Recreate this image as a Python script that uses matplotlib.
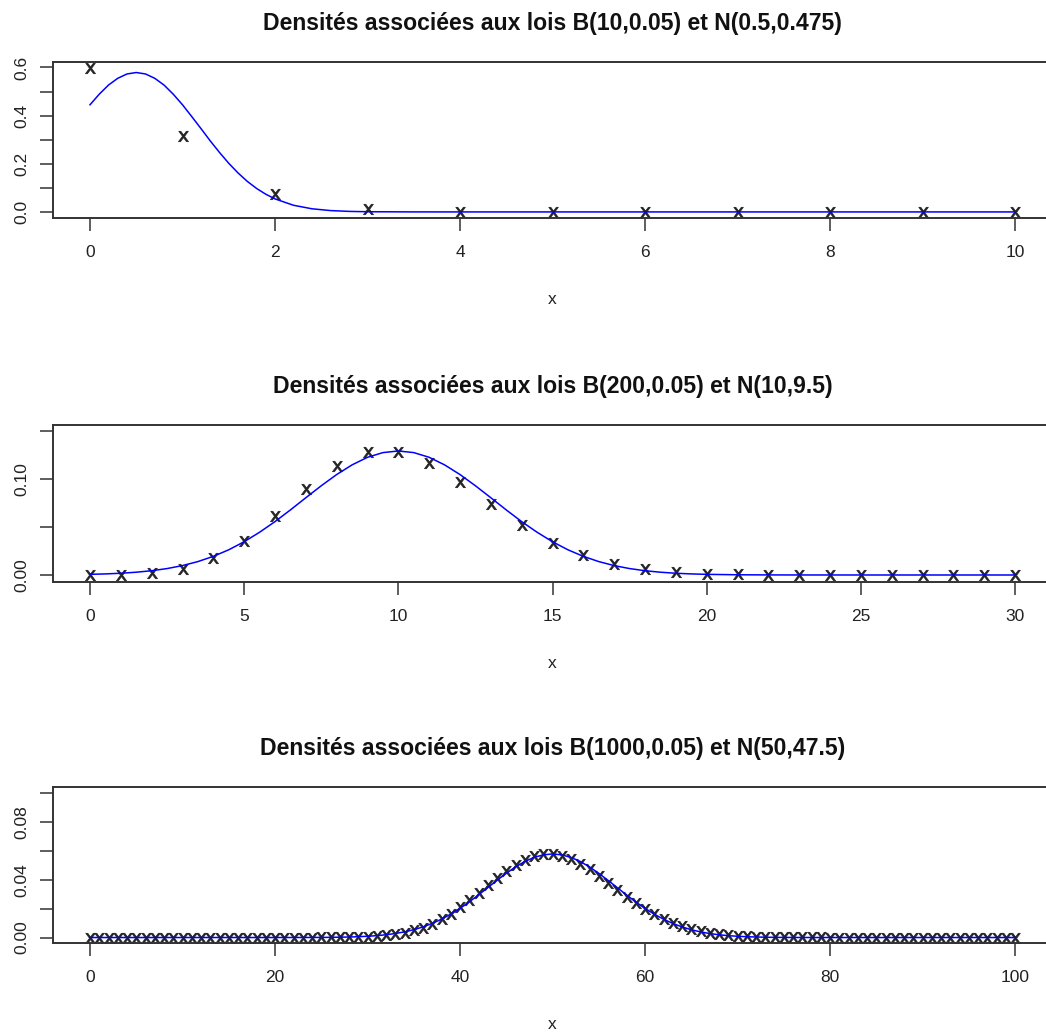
import matplotlib
matplotlib.use("Agg")
import matplotlib.pyplot as plt
from matplotlib import font_manager

# ---------------- data ----------------
titles = [
    "Densités associées aux lois B(10,0.05) et N(0.5,0.475)",
    "Densités associées aux lois B(200,0.05) et N(10,9.5)",
    "Densités associées aux lois B(1000,0.05) et N(50,47.5)",
]

# Panel 1 : binomial points
p1_x = [0, 1, 2, 3, 4, 5, 6, 7, 8, 9, 10]
p1_y = [0.5987, 0.3151, 0.0746, 0.0105, 0.001, 0.0001, 0.0, 0.0, 0.0, 0.0, 0.0]
# Panel 1 : normal curve
c1_x = [0.0, 0.1, 0.2, 0.3, 0.4, 0.5, 0.6, 0.7, 0.8, 0.9, 1.0, 1.1, 1.2, 1.3, 1.4,
        1.5, 1.6, 1.7, 1.8, 1.9, 2.0, 2.2, 2.4, 2.6, 2.8, 3.0, 3.5, 4.0, 5.0,
        6.0, 7.0, 8.0, 9.0, 10.0]
c1_y = [0.445, 0.489, 0.527, 0.555, 0.573, 0.579, 0.573, 0.555, 0.527, 0.489,
        0.445, 0.396, 0.346, 0.295, 0.247, 0.202, 0.162, 0.127, 0.0977, 0.0736,
        0.0542, 0.0276, 0.013, 0.0056, 0.0022, 0.0008, 0.00004, 0.0, 0.0,
        0.0, 0.0, 0.0, 0.0, 0.0]

# Panel 2 : binomial points
p2_x = list(range(0, 31))
p2_y = [0.00004, 0.00037, 0.00194, 0.00672, 0.01742, 0.03594, 0.06148, 0.08967,
        0.11386, 0.12784, 0.12851, 0.11683, 0.09685, 0.07371, 0.05182, 0.03382,
        0.02058, 0.01172, 0.00627, 0.00316, 0.00151, 0.00068, 0.00029, 0.00012,
        0.00005, 0.00002, 0.00001, 0.0, 0.0, 0.0, 0.0]
# Panel 2 : normal curve
c2_x = [0, 0.5, 1, 1.5, 2, 2.5, 3, 3.5, 4, 4.5, 5, 5.5, 6, 6.5, 7, 7.5, 8, 8.5,
        9, 9.5, 10, 10.5, 11, 11.5, 12, 12.5, 13, 13.5, 14, 14.5, 15, 15.5, 16,
        16.5, 17, 17.5, 18, 18.5, 19, 19.5, 20, 21, 22, 23, 25, 30]
c2_y = [0.00067, 0.00112, 0.00182, 0.00289, 0.00446, 0.0067, 0.00981, 0.014,
        0.01945, 0.0263, 0.0347, 0.0446, 0.0557, 0.0679, 0.0806, 0.0931, 0.1048,
        0.1149, 0.1228, 0.1277, 0.1294, 0.1277, 0.1228, 0.1149, 0.1048, 0.0931,
        0.0806, 0.0679, 0.0557, 0.0446, 0.0347, 0.0263, 0.01945, 0.014, 0.00981,
        0.0067, 0.00446, 0.00289, 0.00182, 0.00112, 0.00067, 0.00022, 0.00007,
        0.00002, 0.0, 0.0]

# Panel 3 : binomial points (x = 0..100)
p3_x = list(range(0, 101))
p3_y = [0.0, 0.0, 0.0, 0.0, 0.0, 0.0, 0.0, 0.0, 0.0, 0.0,
        0.0, 0.0, 0.0, 0.0, 0.0, 0.0, 0.0, 0.0, 0.0, 0.0,
        0.0, 0.0, 0.0, 0.0, 0.0, 0.00003, 0.00005, 0.0001, 0.00019, 0.00033,
        0.00056, 0.00092, 0.00146, 0.00226, 0.00339, 0.00492, 0.00694, 0.00951, 0.01269, 0.01647,
        0.02083, 0.02567, 0.03085, 0.03617, 0.0414, 0.04629, 0.05058, 0.05404, 0.05647, 0.05774,
        0.0578, 0.05667, 0.05443, 0.05124, 0.0473, 0.04282, 0.03803, 0.03315, 0.02837, 0.02384,
        0.01968, 0.01596, 0.01272, 0.00997, 0.00768, 0.00582, 0.00434, 0.00318, 0.0023, 0.00163,
        0.00114, 0.00079, 0.00054, 0.00036, 0.00024, 0.00016, 0.0001, 0.00006, 0.00004, 0.00002,
        0.00001, 0.0, 0.0, 0.0, 0.0, 0.0, 0.0, 0.0, 0.0, 0.0,
        0.0, 0.0, 0.0, 0.0, 0.0, 0.0, 0.0, 0.0, 0.0, 0.0,
        0.0]
# Panel 3 : normal curve (x = 0..100)
c3_x = list(range(0, 101))
c3_y = [0.0, 0.0, 0.0, 0.0, 0.0, 0.0, 0.0, 0.0, 0.0, 0.0,
        0.0, 0.0, 0.0, 0.0, 0.0, 0.0, 0.0, 0.0, 0.0, 0.0,
        0.0, 0.00001, 0.00002, 0.00003, 0.00005, 0.00008, 0.00013, 0.00022, 0.00035, 0.00056,
        0.00086, 0.0013, 0.00191, 0.00276, 0.00391, 0.00542, 0.00735, 0.00977, 0.01271, 0.0162,
        0.0202, 0.02467, 0.02951, 0.03456, 0.03963, 0.04449, 0.04892, 0.05266, 0.0555, 0.05728,
        0.05789, 0.05728, 0.0555, 0.05266, 0.04892, 0.04449, 0.03963, 0.03456, 0.02951, 0.02467,
        0.0202, 0.0162, 0.01271, 0.00977, 0.00735, 0.00542, 0.00391, 0.00276, 0.00191, 0.0013,
        0.00086, 0.00056, 0.00035, 0.00022, 0.00013, 0.00008, 0.00005, 0.00003, 0.00002, 0.00001,
        0.0, 0.0, 0.0, 0.0, 0.0, 0.0, 0.0, 0.0, 0.0, 0.0,
        0.0, 0.0, 0.0, 0.0, 0.0, 0.0, 0.0, 0.0, 0.0, 0.0,
        0.0]

x_ticks = [[0, 2, 4, 6, 8, 10], [0, 5, 10, 15, 20, 25, 30], [0, 20, 40, 60, 80, 100]]
y_ticks = [[0.0, 0.1, 0.2, 0.3, 0.4, 0.5, 0.6],
           [0.0, 0.05, 0.10, 0.15],
           [0.0, 0.02, 0.04, 0.06, 0.08, 0.10]]
y_ticklabels = [["0.0", "", "0.2", "", "0.4", "", "0.6"],
                ["0.00", "", "0.10", ""],
                ["0.00", "", "0.04", "", "0.08", ""]]
x_lims = [(-0.4, 10.4), (-1.2, 31.2), (-4, 104)]
y_lims = [(-0.024, 0.6227), (-0.007, 0.1565), (-0.004, 0.1045)]

# ---------------- figure ----------------
W, H = 1046, 1035
fig = plt.figure(figsize=(W / 100, H / 100), dpi=100)

names = {f.name for f in font_manager.fontManager.ttflist}
base_font = ["Liberation Sans", "Arial", "DejaVu Sans"]
title_font = (["Liberation Sans Narrow"] if "Liberation Sans Narrow" in names else []) + base_font

# axes boxes in pixels: (left, top, right, bottom)
boxes = [(53, 62, 1052, 217.7), (53, 425, 1052, 581.7), (53, 786.7, 1052, 943.3)]

panels = [(p1_x, p1_y, c1_x, c1_y), (p2_x, p2_y, c2_x, c2_y), (p3_x, p3_y, c3_x, c3_y)]

for i, (px, py, cx, cy) in enumerate(panels):
    l, t, r, b = boxes[i]
    ax = fig.add_axes([l / W, 1 - b / H, (r - l) / W, (b - t) / H])
    ax.plot(px, py, linestyle="none", marker=r"$\mathsf{x}$", markersize=7.5,
            color="#222222", markeredgewidth=0.5)
    ax.plot(cx, cy, color="#0000ff", linewidth=1.1)
    ax.set_xlim(*x_lims[i])
    ax.set_ylim(*y_lims[i])
    ax.set_xticks(x_ticks[i])
    ax.set_xticklabels([str(v) for v in x_ticks[i]], fontfamily=base_font, fontsize=12.5)
    ax.set_yticks(y_ticks[i])
    ax.set_yticklabels(y_ticklabels[i], fontfamily=base_font, fontsize=12.5,
                       rotation=90, va="center")
    ax.tick_params(axis="both", direction="out", length=9.5, width=1.1, color="#333333",
                   labelcolor="#222222")
    ax.tick_params(axis="x", pad=10)
    ax.tick_params(axis="y", pad=7.5)
    for s in ax.spines.values():
        s.set_linewidth(1.4)
        s.set_color("#333333")
    ax.set_xlabel("x", fontfamily=base_font, fontsize=12.5, labelpad=23, color="#222222")
    ax.set_title(titles[i], fontfamily=title_font, fontsize=16.6, fontweight="bold",
                 pad=23, color="#111111", x=((l + r) / 2 - l) / (r - l))

fig.savefig("out.png", dpi=100)
